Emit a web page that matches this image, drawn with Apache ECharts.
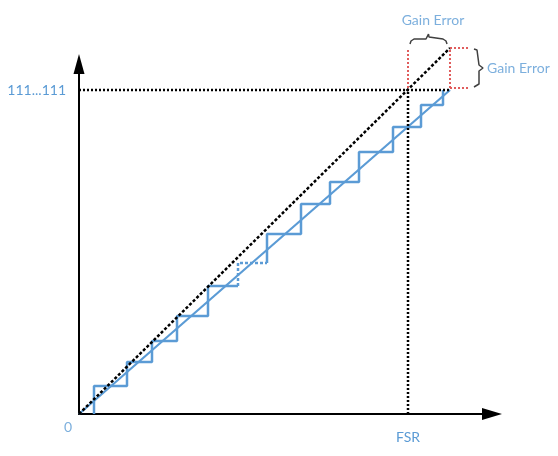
<!DOCTYPE html>
<html><head><meta charset="utf-8">
<script src="https://cdn.jsdelivr.net/npm/echarts@6/dist/echarts.min.js"></script>
<style>html,body{margin:0;padding:0;background:#fff}#c{width:558px;height:456px}</style>
</head><body><div id="c"></div>
<script>
// transfer staircase (input units, output code units)
const stairSolidA = [[15,0],[15,28],[48,28],[48,52],[73,52],[73,73],[98,73],[98,98],[129,98],[129,128],[159,128]];
const stairDashed = [[159,128],[159,151],[188,151]];
const stairSolidB = [[188,151],[188,180],[222,180],[222,210],[251,210],[251,232],[280,232],[280,262],[314,262],[314,287],[342,287],[342,309],[364,309],[364,324]];
const actualLine = [[0,0],[371,324]];
const idealLine = [[0,0],[371,366]];
const fullScaleCode = [[0,324],[371,324]];
const fsrLine = [[329,0],[329,324]];
const gainBoxLeft = [[329,326],[329,366]];
const gainBoxRight = [[371,326],[371,366]];
const gainBoxTop = [[371,366],[389,366]];
const gainBoxBottom = [[371,326],[389,326]];
const braceTop = [[331,370],[332,373],[335,375],[347,375],[349,377],[349.5,380],[350,377],[352,375],[364,375],[367,373],[368,370]];
const braceRight = [[395,365],[398,364],[400,362],[400,349],[402,347],[404,346],[402,345],[400,343],[400,330],[398,328],[395,327]];
const xTickLabels = {329:'FSR'};
const yTickLabels = {324:'111...111'};
const BLUE = '#5b9bd5', RED = '#e05c5c', FONT = 'Lato';

function seg(data, color, width, type, z) {
  return {type:'line', data, symbol:'none', clip:false, silent:true, z:z||2,
    lineStyle:{color, width, type, cap:'butt'}};
}
const chart = echarts.init(document.getElementById('c'));
chart.setOption({
  animation:false,
  grid:{left:79, top:64, width:413, height:350},
  xAxis:{type:'value', min:0, max:413, interval:329,
    axisLine:{lineStyle:{color:'#000', width:2}, symbol:['none','triangle'], symbolSize:[12,20]},
    axisTick:{show:false}, splitLine:{show:false},
    axisLabel:{margin:16, color:BLUE, fontFamily:FONT, fontSize:14, formatter:v=>xTickLabels[v]||'', showMaxLabel:false}},
  yAxis:{type:'value', min:0, max:350, interval:324,
    axisLine:{lineStyle:{color:'#000', width:2}, symbol:['none','triangle'], symbolSize:[11,20]},
    axisTick:{show:false}, splitLine:{show:false},
    axisLabel:{margin:13, color:BLUE, fontFamily:FONT, fontSize:14, formatter:v=>yTickLabels[v]||'', showMaxLabel:false}},
  series:[
    seg(stairSolidA, BLUE, 2.5, 'solid', 3),
    seg(stairDashed, BLUE, 2.5, [3,2], 3),
    seg(stairSolidB, BLUE, 2.5, 'solid', 3),
    seg(actualLine, BLUE, 2.2, 'solid', 3),
    seg(idealLine, '#000', 2.5, [3,2], 4),
    seg(fullScaleCode, '#000', 2.5, [2,2], 4),
    seg(fsrLine, '#000', 2.5, [2,2], 4),
    seg(gainBoxLeft, RED, 2, [2,2], 4),
    seg(gainBoxRight, RED, 2, [2,2], 4),
    seg(gainBoxTop, RED, 2, [2,2], 4),
    seg(gainBoxBottom, RED, 2, [2,2], 4),
    seg(braceTop, '#404040', 1.5, 'solid', 4),
    seg(braceRight, '#404040', 1.5, 'solid', 4),
    {type:'scatter', symbolSize:0, clip:false, silent:true, z:5,
      label:{show:true, formatter:'{b}', color:BLUE, fontFamily:FONT, fontSize:14},
      data:[
        {name:'0', value:[-11,-13], label:{position:'inside'}},
        {name:'Gain Error', value:[354,394], label:{position:'inside'}},
        {name:'Gain Error', value:[408,346], label:{position:'right', distance:0}}
      ]}
  ]
});
</script></body></html>
